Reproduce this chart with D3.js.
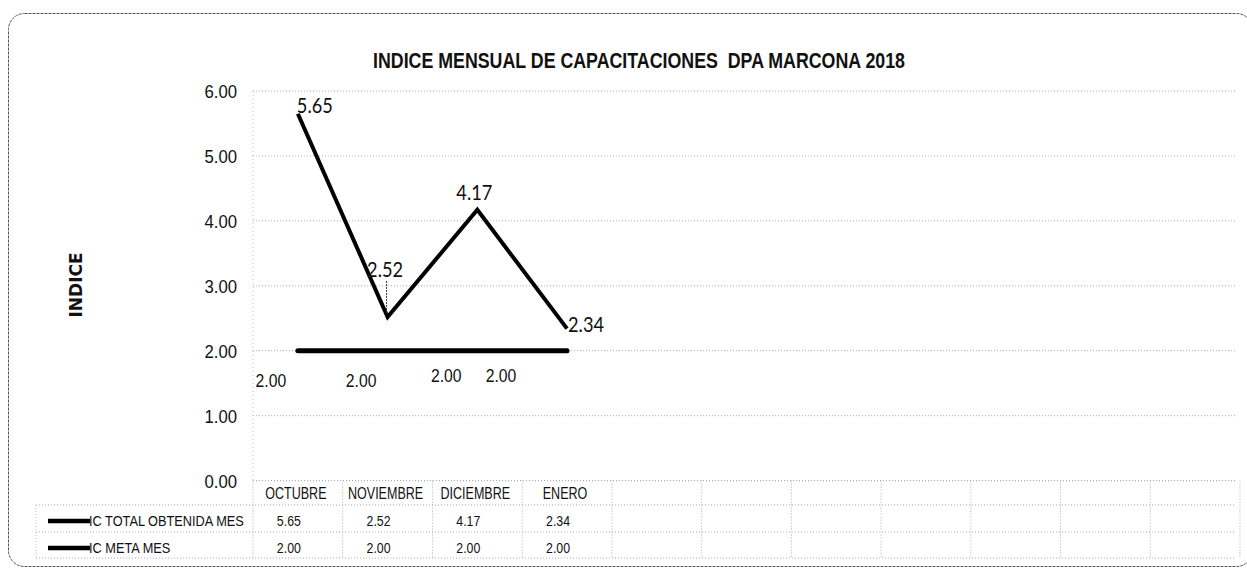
<!DOCTYPE html>
<html>
<head>
<meta charset="utf-8">
<script src="https://cdn.jsdelivr.net/npm/d3@7"></script>
<style>
  html, body { margin: 0; padding: 0; background: #fff; }
  svg { display: block; }
  .cond { font-family: "Liberation Sans", Arial, sans-serif; fill: #111; }
</style>
</head>
<body>
<svg id="chart" width="1247" height="574"></svg>
<script>
// Months shown in the data table; the remaining slots are empty columns
const months = ["OCTUBRE", "NOVIEMBRE", "DICIEMBRE", "ENERO"];
const slotCount = 11;
const seriesNames = ["IC TOTAL OBTENIDA MES", "IC META MES"];
const totalValues = [5.65, 2.52, 4.17, 2.34];
const metaValues = [2.00, 2.00, 2.00, 2.00];
const yTicks = [0, 1, 2, 3, 4, 5, 6];
const title = "INDICE MENSUAL DE CAPACITACIONES  DPA MARCONA 2018";
const yTitle = "INDICE";

const plot = { left: 253, right: 1240, top: 91, bottom: 480.6 };
const tableRows = [480.6, 505, 532, 558];
const tableLeft = 36;
const fmt = d3.format(".2f");

const svg = d3.select("#chart");

// squeeze a text selection horizontally to mimic a condensed face
function condense(sel, factor) {
  sel.each(function () {
    const w = this.getComputedTextLength();
    d3.select(this)
      .attr("textLength", w * factor)
      .attr("lengthAdjust", "spacingAndGlyphs");
  });
  return sel;
}

// frame
svg.append("rect")
  .attr("x", 8.5).attr("y", 13.5)
  .attr("width", 1244).attr("height", 553)
  .attr("rx", 16).attr("ry", 16)
  .attr("fill", "none").attr("stroke", "#555").attr("stroke-width", 1)
  .attr("stroke-dasharray", "3,1");

const x = d3.scaleBand().domain(d3.range(slotCount)).range([plot.left, plot.right]);
const y = d3.scaleLinear().domain([0, 6]).range([plot.bottom, plot.top]);
const cx = i => x(i) + x.bandwidth() / 2;

// horizontal gridlines
svg.append("g").selectAll("line").data(yTicks).join("line")
  .attr("x1", plot.left).attr("x2", plot.right - 4)
  .attr("y1", d => y(d)).attr("y2", d => y(d))
  .attr("stroke", "#aaa").attr("stroke-width", 1).attr("stroke-dasharray", "1,2");

// plot area left edge
svg.append("line")
  .attr("x1", plot.left).attr("x2", plot.left)
  .attr("y1", plot.top).attr("y2", plot.bottom)
  .attr("stroke", "#bbb").attr("stroke-dasharray", "1,3");

// y axis labels
const yAxis = d3.axisLeft(y).tickValues(yTicks).tickFormat(fmt).tickSize(0).tickPadding(16);
const yg = svg.append("g").attr("transform", `translate(${plot.left},0)`).call(yAxis);
yg.select(".domain").remove();
yg.selectAll("text")
  .attr("class", "cond")
  .attr("font-family", null).attr("font-size", null)
  .style("font-size", "19px")
  .attr("dy", "0.36em")
  .call(condense, 0.88);

// chart title
svg.append("text")
  .attr("class", "cond")
  .attr("x", 639).attr("y", 68)
  .attr("text-anchor", "middle")
  .attr("textLength", 532).attr("lengthAdjust", "spacingAndGlyphs")
  .style("font-size", "22px").style("font-weight", "bold")
  .style("white-space", "pre")
  .text(title);

// y axis title
svg.append("text")
  .attr("transform", "translate(82,285) rotate(-90)")
  .attr("text-anchor", "middle")
  .style("font-family", "DejaVu Sans, sans-serif")
  .style("font-size", "17px").style("font-weight", "bold")
  .style("fill", "#111")
  .text(yTitle);

// ---- data table ----
const tg = svg.append("g");
tg.selectAll("line.row").data(tableRows).join("line")
  .attr("class", "row")
  .attr("x1", (d, i) => i === 0 ? plot.left : tableLeft).attr("x2", plot.right - 4)
  .attr("y1", d => d).attr("y2", d => d)
  .attr("stroke", "#aaa").attr("stroke-dasharray", "1,2");
tg.selectAll("line.col").data(d3.range(slotCount + 1)).join("line")
  .attr("class", "col")
  .attr("x1", i => plot.left + i * x.bandwidth()).attr("x2", i => plot.left + i * x.bandwidth())
  .attr("y1", tableRows[0]).attr("y2", tableRows[3])
  .attr("stroke", "#aaa").attr("stroke-dasharray", "1,2");
tg.append("line")
  .attr("x1", tableLeft).attr("x2", tableLeft)
  .attr("y1", tableRows[1]).attr("y2", tableRows[3])
  .attr("stroke", "#bbb").attr("stroke-dasharray", "1,2");

// month headers
tg.selectAll("text.month").data(months).join("text")
  .attr("class", "cond month")
  .attr("x", (d, i) => cx(i) - 2).attr("y", 499)
  .attr("text-anchor", "middle")
  .style("font-size", "16.5px")
  .text(d => d)
  .call(condense, 0.76);

// series rows: legend key, name, values
const rows = [
  { name: seriesNames[0], values: totalValues, y: 526 },
  { name: seriesNames[1], values: metaValues, y: 553 }
];
rows.forEach(r => {
  tg.append("line")
    .attr("x1", 48).attr("x2", 90)
    .attr("y1", r.y - 5).attr("y2", r.y - 5)
    .attr("stroke", "#000").attr("stroke-width", 4.5);
  tg.append("text")
    .attr("class", "cond")
    .attr("x", 89).attr("y", r.y)
    .style("font-size", "14.5px")
    .text(r.name)
    .call(condense, 0.88);
  tg.selectAll(null).data(r.values).join("text")
    .attr("class", "cond")
    .attr("x", (d, i) => cx(i) - 9).attr("y", r.y)
    .attr("text-anchor", "middle")
    .style("font-size", "14.5px")
    .text(d => fmt(d))
    .call(condense, 0.85);
});

// ---- series lines ----
const line = d3.line().x((d, i) => cx(i)).y(d => y(d));

svg.append("path")
  .datum(metaValues)
  .attr("d", line)
  .attr("fill", "none").attr("stroke", "#000")
  .attr("stroke-width", 5).attr("stroke-linecap", "round");

svg.append("path")
  .datum(totalValues)
  .attr("d", line)
  .attr("fill", "none").attr("stroke", "#000")
  .attr("stroke-width", 4).attr("stroke-linejoin", "miter");

// value labels for the obtained index
const totalLabelPlacement = [
  { dx: -1, dy: -1, anchor: "start" },
  { dx: -2.5, dy: -40, anchor: "middle", leader: true },
  { dx: -3, dy: -10, anchor: "middle" },
  { dx: 1, dy: 3, anchor: "start" }
];
totalValues.forEach((v, i) => {
  const p = totalLabelPlacement[i];
  if (p.leader) {
    svg.append("line")
      .attr("x1", cx(i) - 1).attr("x2", cx(i) - 1)
      .attr("y1", y(v) + p.dy + 4).attr("y2", y(v) - 3)
      .attr("stroke", "#333").attr("stroke-width", 1).attr("stroke-dasharray", "2,1");
  }
  svg.append("text")
    .attr("x", cx(i) + p.dx).attr("y", y(v) + p.dy)
    .attr("text-anchor", p.anchor)
    .style("font-size", "22px")
    .style("font-family", "Lato, 'Open Sans', sans-serif")
    .style("fill", "#111")
    .attr("textLength", 36).attr("lengthAdjust", "spacingAndGlyphs")
    .text(fmt(v));
});

// value labels for the target index
const metaLabelOffset = [
  { dx: -27, dy: 36 },
  { dx: -26.5, dy: 36 },
  { dx: -31, dy: 31 },
  { dx: -66, dy: 31 }
];
metaValues.forEach((v, i) => {
  const o = metaLabelOffset[i];
  svg.append("text")
    .attr("class", "cond")
    .attr("x", cx(i) + o.dx).attr("y", y(v) + o.dy)
    .attr("text-anchor", "middle")
    .style("font-size", "18.5px")
    .text(fmt(v))
    .call(condense, 0.85);
});
</script>
</body>
</html>
